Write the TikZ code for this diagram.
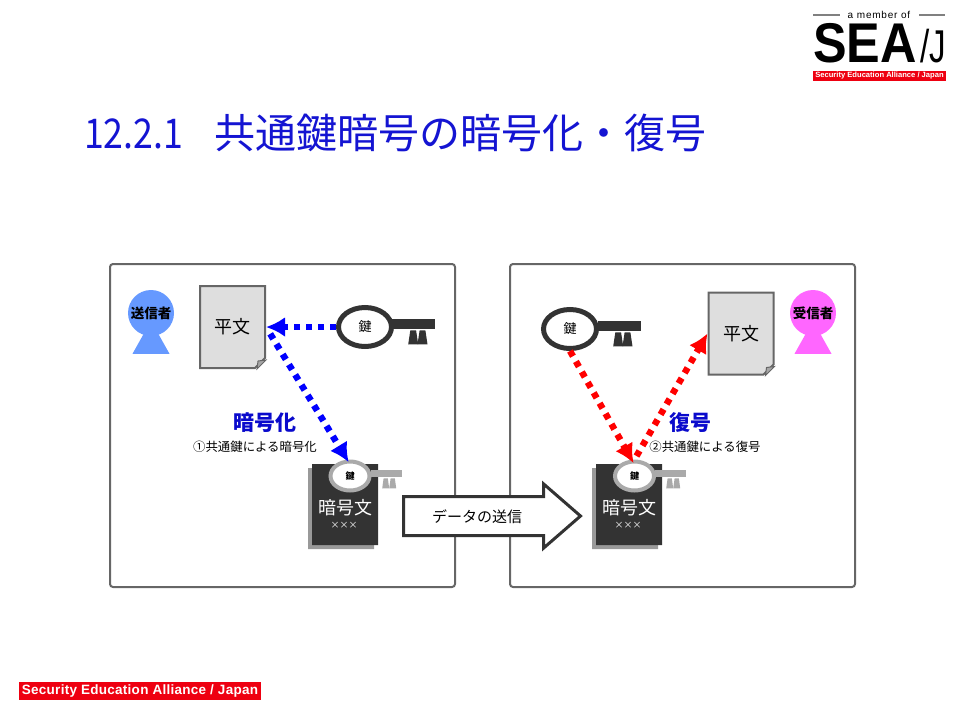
\documentclass[tikz,border=0pt]{standalone}
\usepackage{fontspec}
\setmainfont{Liberation Sans}
\newfontfamily\cjk{Noto Sans CJK JP}
\usepackage{xcolor}
\usetikzlibrary{shapes.geometric, shapes.misc, shapes.arrows, shadows, arrows.meta, positioning, calc}
\definecolor{titleblue}{HTML}{1414D2}
\definecolor{labelblue}{HTML}{0A0ACC}
\definecolor{panelgray}{HTML}{666666}
\definecolor{keydark}{HTML}{333333}
\definecolor{keylight}{HTML}{AAAAAA}
\definecolor{sendercolor}{HTML}{6699FF}
\definecolor{receivercolor}{HTML}{FF66FF}
\definecolor{barred}{HTML}{EE0011}
\newcommand{\fsize}[1]{\fontsize{#1}{#1}\selectfont}

\begin{document}
\begin{tikzpicture}[x=1pt, y=-1pt, inner sep=0pt]
    % Styles
    \tikzstyle{panel} = [rectangle, draw=panelgray, line width=2pt, rounded corners=3pt, minimum width=345pt, minimum height=323pt]
    \tikzstyle{head} = [circle, minimum size=46pt, font=\cjk\bfseries\fsize{13.5}]
    \tikzstyle{body} = [isosceles triangle, shape border rotate=90, isosceles triangle apex angle=58, isosceles triangle stretches, minimum width=37pt, minimum height=33pt, anchor=lower side]
    \tikzstyle{plaindoc} = [chamfered rectangle, chamfered rectangle corners=south east, chamfered rectangle xsep=5pt, chamfered rectangle ysep=5pt, draw=panelgray, line width=2pt, fill=black!13, minimum width=65pt, minimum height=82pt, font=\cjk\fsize{18}]
    \tikzstyle{cipherdoc} = [chamfered rectangle, chamfered rectangle corners=south east, chamfered rectangle xsep=6pt, chamfered rectangle ysep=6pt, fill=keydark, minimum width=66pt, minimum height=81pt, general shadow={fill=black!40, shadow xshift=-4pt, shadow yshift=-4pt}]
    \tikzstyle{ciphertext} = [text=white, font=\cjk\fsize{18}]
    \tikzstyle{ciphermark} = [text=white, font=\cjk\fsize{9}]
    \tikzstyle{bigkey} = [ellipse, draw=keydark, line width=5pt, fill=white, minimum width=53pt, minimum height=39pt, font=\cjk\fsize{13}]
    \tikzstyle{bigshaft} = [rectangle, fill=keydark, minimum width=43pt, minimum height=10pt]
    \tikzstyle{bigtooth} = [trapezium, trapezium stretches=true, trapezium left angle=70, trapezium right angle=70, fill=keydark, minimum width=10pt, minimum height=14pt, execute at begin node=\phantom{\rule{1pt}{1pt}}]
    \tikzstyle{smallkey} = [ellipse, draw=keylight, line width=4pt, fill=white, minimum width=39pt, minimum height=29pt, font=\cjk\bfseries\fsize{9}]
    \tikzstyle{smallshaft} = [rectangle, fill=keylight, minimum width=31pt, minimum height=7pt]
    \tikzstyle{smalltooth} = [trapezium, trapezium stretches=true, trapezium left angle=72, trapezium right angle=72, fill=keylight, minimum width=7pt, minimum height=10pt, execute at begin node=\phantom{\rule{1pt}{1pt}}]
    \tikzstyle{fold} = [draw=panelgray, line width=1pt, fill=black!35]
    \tikzstyle{stepname} = [text=labelblue, font=\cjk\bfseries\fsize{21}]
    \tikzstyle{stepnote} = [font=\cjk\fsize{12.4}]
    \tikzstyle{bluepath} = [draw=blue, line width=6.5pt, dash pattern=on 6pt off 6pt, -{Latex[length=19pt,width=20pt]}]
    \tikzstyle{redpath} = [draw=red, line width=6.5pt, dash pattern=on 6pt off 6pt, -{Latex[length=19pt,width=20pt]}]
    \tikzstyle{sendarrow} = [single arrow, draw=keydark, line width=3pt, fill=white, minimum height=177pt, minimum width=62pt, single arrow head extend=12.5pt, single arrow tip angle=82]
    \tikzstyle{redbar} = [rectangle, fill=barred, text=white, font=\bfseries]

    \useasboundingbox (0,0) rectangle (960,720);

    % Header
    \node [anchor=west, text=titleblue, font=\cjk\fsize{41}] (title) at (84,133) {\scalebox{.87}[1]{12.2.1}\hspace{31pt}共通鍵暗号の暗号化・復号};
    \node [font=\fsize{10}] (member) at (879,15) {\addfontfeature{LetterSpace=8}a member of};
    \coordinate (ruleleft) at (813,15);
    \coordinate (ruleleftend) at (840,15);
    \coordinate (rulerightend) at (919,15);
    \coordinate (ruleright) at (945,15);
    \draw [gray, line width=1.5pt] (ruleleft) -- (ruleleftend);
    \draw [gray, line width=1.5pt] (rulerightend) -- (ruleright);
    \node [anchor=base west, xscale=.9, text height=40pt, text depth=0pt, font=\bfseries\fsize{56}] (sea) at (813,62) {SEA};
    \node [anchor=base west, xscale=.72, text height=33pt, text depth=0pt, font=\fsize{46}] (slash) at (920,62) {/J};
    \node [redbar, minimum width=133pt, minimum height=10pt, font=\bfseries\fsize{7.6}] (logobar) at (879.5,75.5) {Security Education Alliance / Japan};

    % Panels
    \node [panel] (sendpanel) at (282.5,425.5) {};
    \node [panel] (recvpanel) at (682.5,425.5) {};

    % Sender side
    \node [body, fill=sendercolor] (senderbody) at (151,354) {};
    \node [head, fill=sendercolor] (sender) at (151,313) {送信者};
    \node [plaindoc] (plainsend) at (232.5,327) {平文};
    \coordinate (foldsend) at (plainsend.east |- plainsend.south);
    \draw [fold] ($(foldsend)+(0,-9)$) -- ($(foldsend)+(-9,0)$) -- ($(foldsend)+(-8,-8)$) -- cycle;
    \node [bigkey] (keysend) at (365,327) {鍵};
    \node [bigshaft, anchor=west] (shaftsend) at (392,324) {};
    \node [bigtooth, below=1pt of shaftsend.south, xshift=-0.5pt] (toothsenda) {};
    \node [bigtooth, right=1pt of toothsenda] (toothsendb) {};
    \node [cipherdoc] (ciphersend) at (345,504.5) {};
    \node [ciphertext] (ciphersendname) at (345,508) {暗号文};
    \node [ciphermark] (ciphersendmark) at (344,525) {×××};
    \node [smallkey] (lockkey) at (350,476) {鍵};
    \node [smallshaft, anchor=west] (lockshaft) at (371,473.5) {};
    \node [smalltooth, below=1pt of lockshaft.south, xshift=-1pt] (locktootha) {};
    \node [smalltooth, right=1pt of locktootha] (locktoothb) {};
    \node [stepname] (encname) at (265,423) {暗号化};
    \node [stepnote] (encnote) at (255,447) {①共通鍵による暗号化};

    % Receiver side
    \node [body, fill=receivercolor] (receiverbody) at (813,354) {};
    \node [head, fill=receivercolor] (receiver) at (813,313) {受信者};
    \node [plaindoc] (plainrecv) at (741,333.5) {平文};
    \coordinate (foldrecv) at (plainrecv.east |- plainrecv.south);
    \draw [fold] ($(foldrecv)+(0,-9)$) -- ($(foldrecv)+(-9,0)$) -- ($(foldrecv)+(-8,-8)$) -- cycle;
    \node [bigkey] (keyrecv) at (570,329) {鍵};
    \node [bigshaft, anchor=west] (shaftrecv) at (598,326) {};
    \node [bigtooth, below=1pt of shaftrecv.south, xshift=-1.5pt] (toothrecva) {};
    \node [bigtooth, right=1pt of toothrecva] (toothrecvb) {};
    \node [cipherdoc] (cipherrecv) at (629,504.5) {};
    \node [ciphertext] (cipherrecvname) at (629,508) {暗号文};
    \node [ciphermark] (cipherrecvmark) at (628,525) {×××};
    \node [smallkey] (unlockkey) at (634.5,476) {鍵};
    \node [smallshaft, anchor=west] (unlockshaft) at (655,473.5) {};
    \node [smalltooth, below=1pt of unlockshaft.south, xshift=-1pt] (unlocktootha) {};
    \node [smalltooth, right=1pt of unlocktootha] (unlocktoothb) {};
    \node [stepname] (decname) at (690,423) {復号};
    \node [stepnote] (decnote) at (705,447) {②共通鍵による復号};

    % Transfer
    \node [sendarrow, anchor=tail] (transfer) at (402,516) {\rule{0pt}{36pt}};
    \node [font=\cjk\fsize{15}] (transfertext) at (477,517) {データの送信};

    % Footer
    \node [redbar, minimum width=242pt, minimum height=18pt, font=\bfseries\fsize{13.5}] (footer) at (140,691) {\addfontfeature{LetterSpace=2}Security Education Alliance / Japan};

    % Paths
    \path [bluepath] (keysend.west) -- (plainsend.east);
    \path [bluepath, shorten <=8pt, shorten >=-3pt] (plainsend.east) -- (lockkey.100);
    \path [redpath, shorten >=-4pt] (keyrecv.south) -- (unlockkey.100);
    \path [redpath, shorten <=4pt] (unlockkey.north) -- (plainrecv.west);
\end{tikzpicture}
\end{document}
